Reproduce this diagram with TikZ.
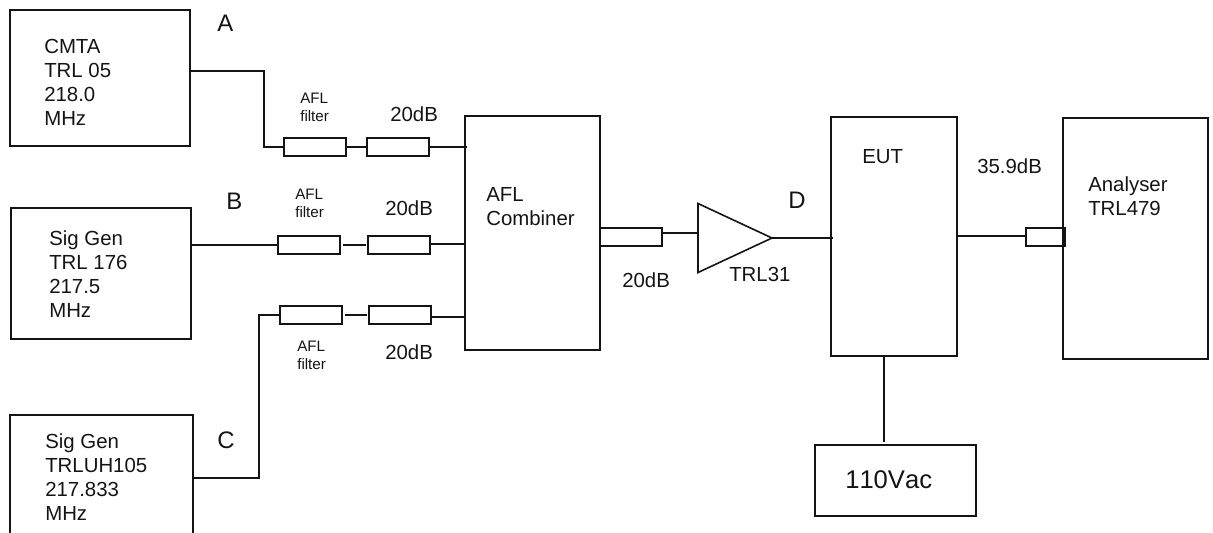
\documentclass[tikz,border=0pt]{standalone}
\usepackage{fontspec}
\setmainfont{Liberation Sans}
\usetikzlibrary{shapes.geometric}
\definecolor{ink}{RGB}{20,20,20}

\begin{document}
\begin{tikzpicture}[
  x=0.025cm, y=-0.025cm,
  wire/.style={draw=ink, line width=0.04cm},
  unit/.style={draw=ink, line width=0.04cm, inner sep=0pt, outer sep=0pt},
  pad/.style={unit, minimum width=1.55cm, minimum height=0.45cm},
  lbl/.style={font=\fontsize{14.5}{17}\selectfont, anchor=base west, inner sep=0pt, text=ink},
  stack/.style={font=\fontsize{14.5}{17}\selectfont, anchor=west, align=left, inner sep=0pt, text=ink},
  small/.style={font=\fontsize{10.8}{12.8}\selectfont, anchor=west, align=left, inner sep=0pt, text=ink},
  tag/.style={font=\fontsize{17}{20}\selectfont, anchor=base west, inner sep=0pt, text=ink},
]
\useasboundingbox (0,0) rectangle (1213,533);
\clip (0,0) rectangle (1213,533);

% Signal sources (the lowest one runs off the page)
\node[unit, minimum width=4.5cm, minimum height=3.4cm] (cmta) at (100,78) {};
\node[unit, minimum width=4.5cm, minimum height=3.275cm] (siggenb) at (101,273.5) {};
\node[unit, minimum width=4.575cm, minimum height=3.6cm] (siggenc) at (101.5,487) {};
\node[stack] (cmtatxt) at (44,82.5) {CMTA\\TRL 05\\218.0\\MHz};
\node[stack] (siggenbtxt) at (49,274) {Sig Gen\\TRL 176\\217.5\\MHz};
\node[stack] (siggenctxt) at (45,477) {Sig Gen\\TRLUH105\\217.833\\MHz};

% Main units
\node[unit, minimum width=3.375cm, minimum height=5.85cm] (comb) at (532.5,233) {};
\node[unit, minimum width=3.15cm, minimum height=5.975cm] (eut) at (894,236.5) {};
\node[unit, minimum width=3.625cm, minimum height=6.025cm] (ana) at (1135.5,238.5) {};
\node[unit, minimum width=4.025cm, minimum height=1.775cm] (mains) at (895.5,480.5) {};
\node[stack] (combtxt) at (486,207) {AFL\\Combiner};
\node[stack] (anatxt) at (1088,196) {Analyser\\TRL479};
\node[lbl] (euttxt) at (862,163) {EUT};
\node[lbl, font=\fontsize{18.2}{21}\selectfont\addfontfeature{Kerning=Off}] (mainstxt) at (845,488) {110Vac};

% Filters and pads, rows A, B, C
\node[pad] (filta) at (315,147) {};
\node[pad] (pada) at (398,147) {};
\node[pad] (filtb) at (309,245) {};
\node[pad] (padb) at (399,245) {};
\node[pad] (filtc) at (311,315) {};
\node[pad] (padc) at (400,315) {};
\node[small] (filtatxt) at (300,107.5) {AFL\\filter};
\node[small] (filtbtxt) at (295,203) {AFL\\filter};
\node[small] (filtctxt) at (297,355) {AFL\\filter};
\node[lbl] (padatxt) at (390,121) {20dB};
\node[lbl] (padbtxt) at (385,215) {20dB};
\node[lbl] (padctxt) at (385,359) {20dB};

% Output chain
\node[pad] (padout) at (631,237) {};
\node[lbl] (padouttxt) at (622,287) {20dB};
\node[unit, isosceles triangle, isosceles triangle stretches, shape border rotate=0,
  minimum width=1.725cm, minimum height=1.85cm, anchor=apex] (amp) at (772,238) {};
\node[lbl] (amptxt) at (729,281) {TRL31};
\node[pad, minimum width=0.975cm] (padana) at (1045.5,237) {};
\node[lbl] (anapadtxt) at (977,173) {35.9dB};

% Test point letters
\node[tag] (ptA) at (217,31) {A};
\node[tag] (ptB) at (226,209) {B};
\node[tag] (ptC) at (217,448) {C};
\node[tag] (ptD) at (788,208) {D};

% Turning points and off-centre wire ends
\coordinate (kneea) at (264,71);
\coordinate (kneec) at (259,478);
\coordinate (combb) at (465,244);
\coordinate (combc) at (465,317);
\coordinate (ampin) at (698,233);
\coordinate (eutout) at (957,236);
\coordinate (mainsin) at (884,442);

% Row A
\draw[wire] (cmta.east |- kneea) -- (kneea) |- (filta.west);
\draw[wire] (filta.east) -- (pada.west);
\draw[wire, shorten >=-0.06cm] (pada.east) -- (pada.east -| comb.west);
% Row B
\draw[wire] (siggenb.east |- filtb.west) -- (filtb.west);
\draw[wire, shorten <=0.07cm, shorten >=0.05cm] (filtb.east) -- (filtb.east -| padb.west);
\draw[wire] (padb.east |- combb) -- (combb);
% Row C
\draw[wire] (siggenc.east |- kneec) -- (kneec) |- (filtc.west);
\draw[wire, shorten <=0.07cm, shorten >=0.05cm] (filtc.east) -- (padc.west);
\draw[wire] (padc.east |- combc) -- (combc);
% Output chain
\draw[wire] (padout.east |- ampin) -- (ampin);
\draw[wire, shorten >=-0.05cm] (amp.apex) -- (amp.apex -| eut.west);
\draw[wire] (eutout) -- (padana.west |- eutout);
\draw[wire] (mainsin) -- (mainsin |- eut.south);
\end{tikzpicture}
\end{document}
